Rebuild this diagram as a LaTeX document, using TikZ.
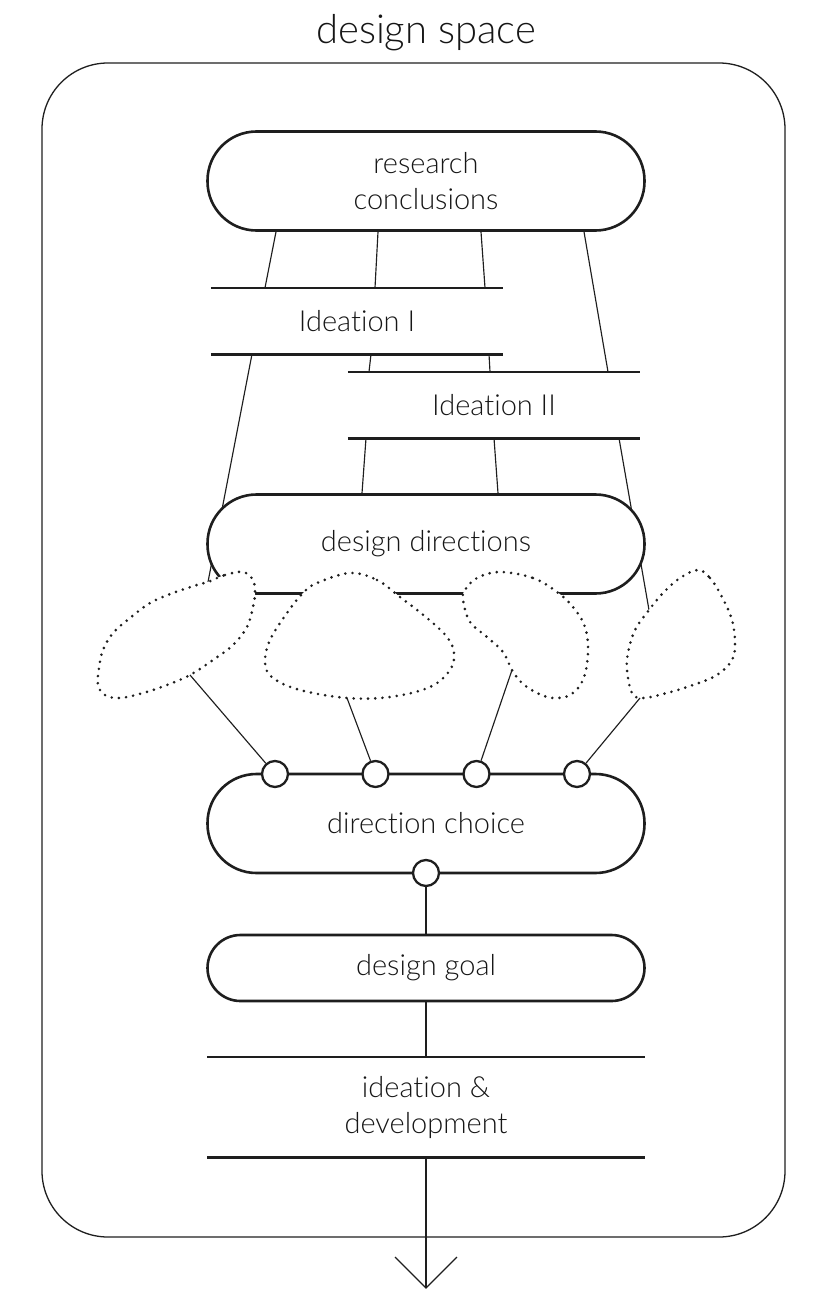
\documentclass[tikz,border=0pt]{standalone}
\usepackage{fontspec}
\setmainfont{Lato}[UprightFont=* Light, Ligatures={NoCommon}]
\usetikzlibrary{calc}
\definecolor{ink}{HTML}{1E1E1E}
\definecolor{txt}{HTML}{161616}
\pgfdeclarelayer{bg}
\pgfsetlayers{bg,main}
\newcommand{\bodyfont}{\fontsize{29}{36}\selectfont}
\tikzset{
  stadium/.style={draw=ink, line width=2.6pt, fill=white, text=txt, font=\bodyfont,
    align=center, inner sep=0pt, minimum width=437pt},
  tallbox/.style={stadium, minimum height=99pt, rounded corners=49pt},
  lowbox/.style={stadium, minimum height=66pt, rounded corners=33pt},
  band/.style={text=txt, font=\bodyfont, align=center, inner sep=0pt},
  bandline/.style={draw=ink, line width=2.6pt},
  link/.style={draw=ink, line width=1.15pt},
  port/.style={circle, draw=ink, line width=2.3pt, fill=white, minimum size=26pt, inner sep=0pt},
  blob/.style={draw=ink, fill=white, line width=2.9pt, line cap=round, dash pattern=on 0pt off 7.2pt},
  frame/.style={draw=ink, line width=1.3pt, rounded corners=66pt},
}
\begin{document}
\begin{tikzpicture}[x=1pt,y=-1pt]
\useasboundingbox (0,0) rectangle (814,1289);

% outer frame and title
\draw[frame] (42,63) rectangle (785,1237);
\node[text=txt, font=\fontsize{40}{48}\selectfont, inner sep=0pt] (ttl) at (426,33) {design space};

% first stage
\node[tallbox] (rc) at (426,181) {research\\conclusions};
\node[band, minimum width=292pt, minimum height=66pt] (i1) at (357,321) {Ideation I};
\node[band, minimum width=292pt, minimum height=66pt] (i2) at (494,405) {Ideation II};
\foreach \b in {i1,i2}{
  \draw[bandline] (\b.north west) -- (\b.north east);
  \draw[bandline] (\b.south west) -- (\b.south east);
}
\node[tallbox] (dd) at (426,544) {design directions};

% direction sketches
\draw[blob] plot[smooth cycle, tension=0.6] coordinates {
  (208,582) (225,575) (243,572) (253,580) (255,593) (253,607) (247,627) (233,645)
  (213,660) (190,675) (167,685) (143,693) (120,698) (105,695) (98,685) (99,668)
  (103,650) (113,633) (130,618) (150,603) (173,593) (197,585)};
\draw[blob] plot[smooth cycle, tension=0.6] coordinates {
  (350,573) (377,580) (400,597) (427,618) (447,637) (454,653) (450,670) (430,687)
  (390,697) (347,698) (300,690) (273,678) (265,663) (270,640) (287,613) (303,593) (317,583)};
\draw[blob] plot[smooth cycle, tension=0.6] coordinates {
  (500,572) (533,578) (557,592) (573,607) (585,627) (588,653) (583,680) (570,695)
  (553,698) (537,693) (522,683) (512,670) (503,652) (487,637) (470,622) (463,600)
  (465,590) (477,578)};
\draw[blob] plot[smooth cycle, tension=0.6] coordinates {
  (698,570) (710,578) (722,597) (732,620) (735,643) (732,660) (717,675) (693,685)
  (667,693) (643,698) (632,693) (627,670) (628,653) (635,630) (649,610) (663,593) (680,578)};
\coordinate (b1n) at (208,582);
\coordinate (b4n) at (649,610);
\coordinate (b1s) at (190,675);
\coordinate (b2s) at (347,698);
\coordinate (b3s) at (512,670);
\coordinate (b4s) at (640,698);

% choice and goal
\node[tallbox] (dc) at (426,823.5) {direction choice};
\node[port] (c1) at (275,774) {};
\node[port] (c2) at (375.5,774) {};
\node[port] (c3) at (476.5,774) {};
\node[port] (c4) at (577,774) {};
\node[port] (c5) at (426,873) {};
\node[lowbox] (dg) at (426,968) {design goal};
\node[band, minimum width=437pt, minimum height=100pt] (idv) at (426,1107) {ideation \&\\development};
\draw[bandline] (idv.north west) -- (idv.north east);
\draw[bandline] (idv.south west) -- (idv.south east);
\coordinate (tip) at (426,1288);

% connectors
\begin{pgfonlayer}{bg}
\draw[link] ([xshift=-150pt]rc.south) -- ([xshift=-92pt]i1.north);
\draw[link] ([xshift=-48pt]rc.south) -- ([xshift=18pt]i1.north);
\draw[link] ([xshift=55pt]rc.south) -- ([xshift=128pt]i1.north);
\draw[link] ([xshift=158pt]rc.south) -- ([xshift=114pt]i2.north);
\draw[link] ([xshift=-105pt]i1.south) -- (b1n);
\draw[link] ([xshift=14pt]i1.south) -- ([xshift=-125pt]i2.north);
\draw[link] ([xshift=132pt]i1.south) -- ([xshift=-4pt]i2.north);
\draw[link] ([xshift=-128pt]i2.south) -- ([xshift=-64pt]dd.north);
\draw[link] (i2.south) -- ([xshift=72pt]dd.north);
\draw[link] ([xshift=125pt]i2.south) -- (b4n);
\end{pgfonlayer}
\draw[link] (b1s) -- (c1);
\draw[link] (b2s) -- (c2);
\draw[link] (b3s) -- (c3);
\draw[link] (b4s) -- (c4);
\draw[link] (c5) -- (dg);
\draw[link] (dg) -- (idv.north);
\draw[link] (idv.south) -- (tip);
\draw[link] (tip) ++(-31,-31) -- (tip) -- ++(31,-31);
\end{tikzpicture}
\end{document}
